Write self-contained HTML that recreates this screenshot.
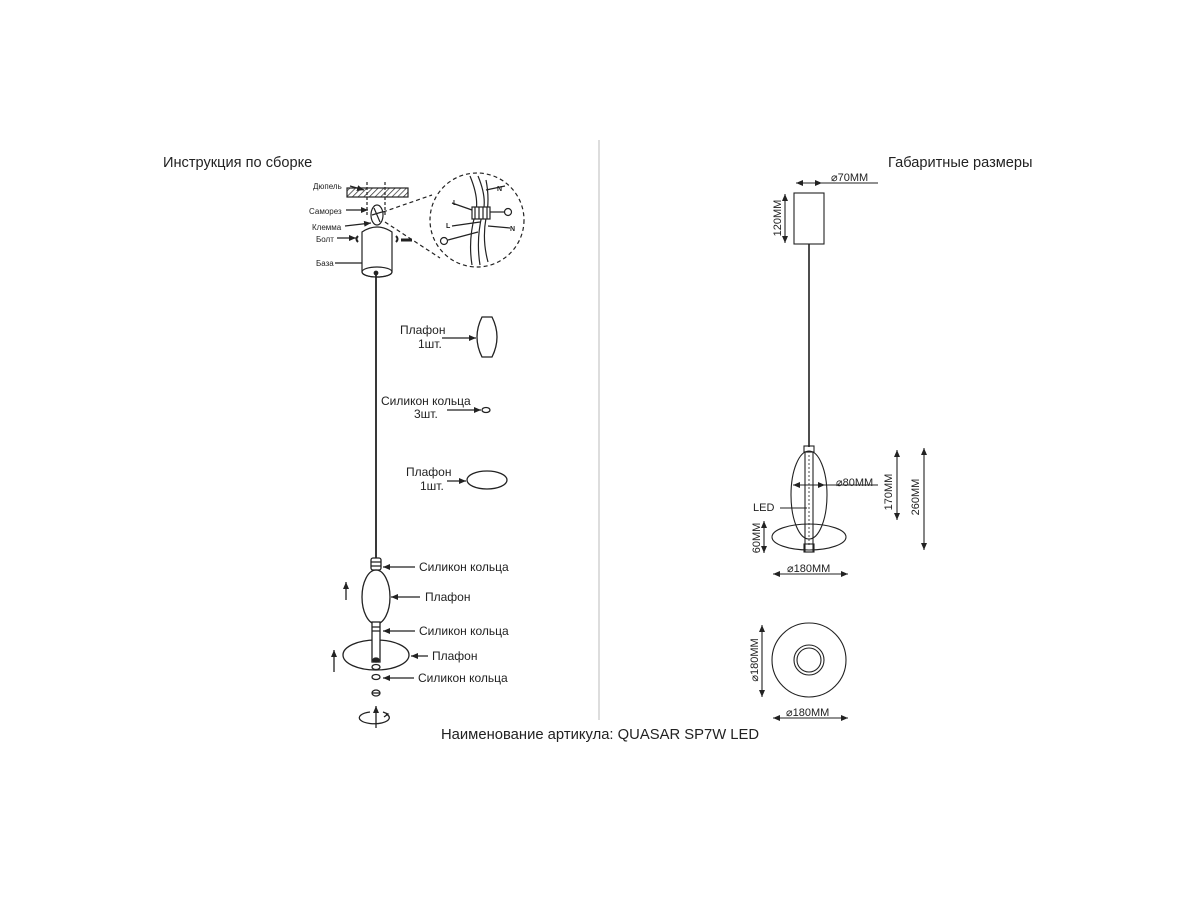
<!DOCTYPE html>
<html><head><meta charset="utf-8"><style>
html,body{margin:0;padding:0;background:#fff;}
svg{display:block;}
text{font-family:"Liberation Sans","DejaVu Sans",sans-serif;fill:#222;}
</style></head><body>
<svg width="1200" height="900" viewBox="0 0 1200 900" xmlns="http://www.w3.org/2000/svg">
<defs>
<pattern id="h" width="4" height="4" patternUnits="userSpaceOnUse" patternTransform="rotate(45)"><line x1="0" y1="0" x2="0" y2="4" stroke="#333" stroke-width="1.5"/></pattern>
<marker id="a" markerWidth="8" markerHeight="8" refX="7" refY="4" orient="auto" markerUnits="userSpaceOnUse"><path d="M0,1 L7,4 L0,7 z" fill="#222"/></marker>
<marker id="b" markerWidth="8" markerHeight="8" refX="1" refY="4" orient="auto" markerUnits="userSpaceOnUse"><path d="M8,1 L1,4 L8,7 z" fill="#222"/></marker>
</defs>
<g stroke="#222" fill="none" stroke-width="1.2">
<line x1="599" y1="140" x2="599" y2="720" stroke="#bbb" stroke-width="1"/>
</g>
<text x="163" y="167" font-size="14.6">Инструкция по сборке</text>
<text x="888" y="167" font-size="14.6">Габаритные размеры</text>
<text x="441" y="739" font-size="14.8">Наименование артикула: QUASAR SP7W LED</text>

<!-- left top -->
<g stroke="#222" fill="none" stroke-width="1.2">
<rect x="347" y="188" width="61" height="9" fill="url(#h)"/>
<line x1="367" y1="182" x2="367" y2="215" stroke-dasharray="3,2"/>
<line x1="385" y1="182" x2="385" y2="215" stroke-dasharray="3,2"/>
<ellipse cx="377" cy="215" rx="6" ry="10" fill="#fff"/>
<path d="M374,208 L380,222 M372,215 L382,212"/>
<path d="M362,232 Q377,222 392,232 L392,272 A15,5 0 0 1 362,272 Z" fill="#fff"/>
<ellipse cx="377" cy="272" rx="15" ry="5"/>
<circle cx="376" cy="273" r="1.8" fill="#222"/>
<line x1="376" y1="275" x2="376" y2="560" stroke-width="1.8"/>
<path d="M358,236 q-3,3 0,6 M396,236 q3,3 0,6" stroke-width="2"/>
<line x1="401" y1="240" x2="412" y2="240" stroke-width="3"/>
<line x1="350" y1="186" x2="364" y2="190" marker-end="url(#a)"/>
<line x1="346" y1="210" x2="368" y2="210" marker-end="url(#a)"/>
<line x1="345" y1="226" x2="371" y2="223" marker-end="url(#a)"/>
<line x1="337" y1="238" x2="356" y2="238" marker-end="url(#a)"/>
<line x1="335" y1="263" x2="362" y2="263"/>
<circle cx="477" cy="220" r="47" stroke-dasharray="4,3"/>
<path d="M383,212 L432,195 M385,222 L440,258" stroke-dasharray="4,3"/>
<path d="M470,176 Q480,200 475,215 Q468,240 472,265 M478,176 Q488,200 482,215 Q476,240 480,265 M486,180 Q490,200 486,218 Q482,240 488,262"/>
<rect x="472" y="207" width="18" height="12" fill="#fff"/>
<path d="M475,207 v12 M479,207 v12 M483,207 v12 M487,207 v12"/>
<line x1="452" y1="203" x2="472" y2="210"/><line x1="486" y1="190" x2="505" y2="186"/>
<line x1="490" y1="212" x2="505" y2="212"/><line x1="452" y1="226" x2="480" y2="222"/>
<line x1="488" y1="226" x2="510" y2="228"/><line x1="448" y1="240" x2="478" y2="232"/>
<circle cx="508" cy="212" r="3.5"/><circle cx="444" cy="241" r="3.5"/>
</g>
<g font-size="8">
<text x="313" y="189">Дюпель</text><text x="309" y="214">Саморез</text>
<text x="312" y="230">Клемма</text><text x="316" y="242">Болт</text><text x="316" y="266">База</text>
</g>
<g font-size="7" font-weight="bold"><text x="453" y="205">L</text><text x="497" y="191">N</text><text x="446" y="228">L</text><text x="510" y="231">N</text></g>

<!-- left middle parts -->
<g stroke="#222" fill="none" stroke-width="1.3">
<line x1="442" y1="338" x2="476" y2="338" marker-end="url(#a)"/>
<path d="M482,317 Q472,337 482,357 L492,357 Q502,337 492,317 Z"/>
<line x1="447" y1="410" x2="481" y2="410" marker-end="url(#a)"/>
<ellipse cx="486" cy="410" rx="4" ry="2.5"/>
<line x1="447" y1="481" x2="466" y2="481" marker-end="url(#a)"/>
<ellipse cx="487" cy="480" rx="20" ry="9"/>
</g>
<g font-size="12">
<text x="400" y="334">Плафон</text><text x="418" y="348">1шт.</text>
<text x="381" y="405">Силикон кольца</text><text x="414" y="418">3шт.</text>
<text x="406" y="476">Плафон</text><text x="420" y="490">1шт.</text>
</g>

<!-- left lower assembly -->
<g stroke="#222" fill="none" stroke-width="1.3">
<rect x="371" y="558" width="10" height="12" rx="2" fill="#fff"/>
<path d="M371,562 h10 M371,566 h10"/>
<ellipse cx="376" cy="597" rx="14" ry="27"/>
<ellipse cx="376" cy="655" rx="33" ry="15"/>
<rect x="372" y="622" width="8" height="40" fill="#fff"/>
<path d="M372,627 h8 M372,631 h8"/>
<ellipse cx="376" cy="660" rx="3" ry="2" fill="#222"/>
<ellipse cx="376" cy="667" rx="4" ry="2.5"/>
<ellipse cx="376" cy="677" rx="4" ry="2.5"/>
<ellipse cx="376" cy="693" rx="4" ry="3"/><line x1="372" y1="693" x2="380" y2="693"/>
<line x1="346" y1="600" x2="346" y2="582" marker-end="url(#a)"/>
<line x1="334" y1="672" x2="334" y2="650" marker-end="url(#a)"/>
<line x1="376" y1="728" x2="376" y2="706" marker-end="url(#a)"/>
<path d="M386,714 A15,6 0 1 1 370,712"/>
<path d="M383,712 l5,2 l-4,3"/>
<line x1="415" y1="567" x2="383" y2="567" marker-end="url(#a)"/>
<line x1="420" y1="597" x2="391" y2="597" marker-end="url(#a)"/>
<line x1="415" y1="631" x2="383" y2="631" marker-end="url(#a)"/>
<line x1="428" y1="656" x2="411" y2="656" marker-end="url(#a)"/>
<line x1="414" y1="678" x2="383" y2="678" marker-end="url(#a)"/>
</g>
<g font-size="12">
<text x="419" y="571">Силикон кольца</text><text x="425" y="601">Плафон</text>
<text x="419" y="635">Силикон кольца</text><text x="432" y="660">Плафон</text>
<text x="418" y="682">Силикон кольца</text>
</g>

<!-- right -->
<g stroke="#222" fill="none" stroke-width="1.1">
<rect x="794" y="193" width="30" height="51"/>
<line x1="809" y1="244" x2="809" y2="447" stroke-width="1.6"/>
<line x1="796" y1="183" x2="822" y2="183" marker-start="url(#b)" marker-end="url(#a)"/>
<line x1="822" y1="183" x2="878" y2="183"/>
<line x1="785" y1="194" x2="785" y2="243" marker-start="url(#b)" marker-end="url(#a)"/>
<rect x="804" y="446" width="10" height="6"/>
<ellipse cx="809" cy="495" rx="18" ry="44"/>
<ellipse cx="809" cy="537" rx="37" ry="13"/>
<rect x="805" y="452" width="8" height="100" fill="none"/>
<line x1="809" y1="455" x2="809" y2="545" stroke-dasharray="2,2" stroke-width="0.8"/>
<rect x="804" y="544" width="10" height="8"/>
<line x1="793" y1="485" x2="825" y2="485" marker-start="url(#b)" marker-end="url(#a)"/>
<line x1="825" y1="485" x2="878" y2="485"/>
<line x1="897" y1="450" x2="897" y2="520" marker-start="url(#b)" marker-end="url(#a)"/>
<line x1="924" y1="448" x2="924" y2="550" marker-start="url(#b)" marker-end="url(#a)"/>
<line x1="780" y1="508" x2="807" y2="508"/>
<line x1="764" y1="521" x2="764" y2="553" marker-start="url(#b)" marker-end="url(#a)"/>
<line x1="773" y1="574" x2="848" y2="574" marker-start="url(#b)" marker-end="url(#a)"/>
<circle cx="809" cy="660" r="37"/>
<circle cx="809" cy="660" r="15"/><circle cx="809" cy="660" r="12"/>
<line x1="762" y1="625" x2="762" y2="697" marker-start="url(#b)" marker-end="url(#a)"/>
<line x1="773" y1="718" x2="848" y2="718" marker-start="url(#b)" marker-end="url(#a)"/>
</g>
<g font-size="11">
<text x="831" y="181">⌀70MM</text>
<text x="836" y="486">⌀80MM</text>
<text x="753" y="511">LED</text>
<text x="787" y="572">⌀180MM</text>
<text x="786" y="716">⌀180MM</text>
<text transform="translate(781,218) rotate(-90)" text-anchor="middle">120MM</text>
<text transform="translate(892,492) rotate(-90)" text-anchor="middle">170MM</text>
<text transform="translate(919,497) rotate(-90)" text-anchor="middle">260MM</text>
<text transform="translate(760,538) rotate(-90)" text-anchor="middle">60MM</text>
<text transform="translate(758,660) rotate(-90)" text-anchor="middle">⌀180MM</text>
</g>
</svg>
</body></html>
